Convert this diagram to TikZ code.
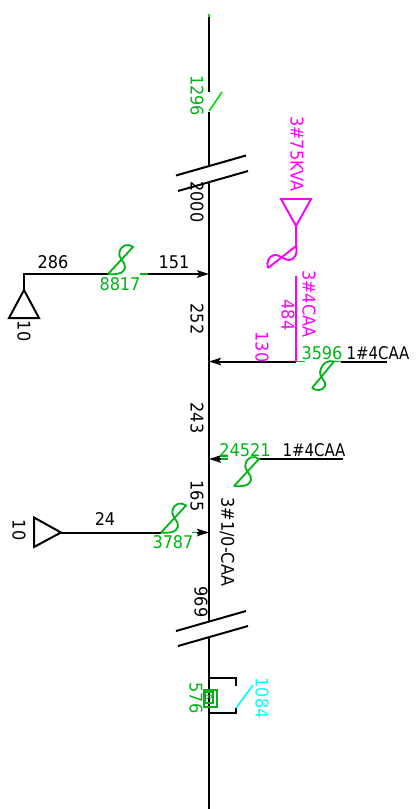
\documentclass[tikz,border=0pt]{standalone}
\usepackage{fontspec}
\setmainfont[FakeStretch=0.92]{DejaVu Sans}
\usetikzlibrary{arrows.meta}
\definecolor{cadgreen}{RGB}{0,180,20}
\definecolor{limeg}{RGB}{0,225,0}
\definecolor{cadmag}{RGB}{255,0,255}
\definecolor{cadcyan}{RGB}{0,255,255}
\tikzset{
  wire/.style={line width=2pt,black},
  gwire/.style={line width=1.8pt,cadgreen},
  mwire/.style={line width=1.9pt,cadmag},
  head/.style={-{Stealth[length=12pt,width=7.5pt,inset=2.5pt]}},
  lbl/.style={font=\fontsize{17.5}{19}\selectfont,inner sep=0pt,anchor=center,text=black},
  vlbl/.style={lbl,rotate=-90},
  glbl/.style={text=cadgreen},
  mlbl/.style={text=cadmag},
}
\newcommand{\swirl}[3]{% bottom-left x, y, colour
  \draw[line width=1.8pt,#3,shift={(#1,#2)}] (0,0) -- (25,-27)
    .. controls (20,-31) and (13,-29) .. (11.5,-22)
    .. controls (10,-15) and (18,-12) .. (17,-6)
    .. controls (16,0) and (6,1) .. (0,0);}
\begin{document}
\begin{tikzpicture}[x=1pt,y=-1pt]
\useasboundingbox (0,0) rectangle (420,809);
% main feeder
\coordinate (m0) at (209,16);
\coordinate (m1) at (209,92);
\coordinate (m2) at (209,112);
\coordinate (m3) at (209,166);
\coordinate (m4) at (209,182);
\coordinate (m5) at (209,622);
\coordinate (m6) at (209,637);
\coordinate (m7) at (209,809);
\draw[wire] (m0) -- (m1);
\draw[line width=1.8pt,limeg] (209,14) -- (209,17);
\draw[wire] (m2) -- (m3);
\draw[wire] (m4) -- (m5);
\draw[wire] (m6) -- (m7);
\draw[line width=1.6pt,limeg] (m2) ++(0,-1) -- (222,92);
% break marks
\draw[wire] (176,175.5) -- (246,155.5);
\draw[wire] (178,191) -- (248,171);
\draw[wire] (176,631) -- (246,611);
\draw[wire] (178,646) -- (248,626);
% left branch upper
\coordinate (lt) at (24,274);
\coordinate (la) at (24,290);
\coordinate (j1) at (209,274);
\draw[wire] (la) -- (lt) -- (108,274);
\draw[wire] (39,318) -- (9,318) -- (la) -- cycle;
\draw[gwire] (140,274) -- (148,274);
\draw[wire,head] (148,274) -- (j1);
\swirl{108}{274}{cadgreen}
% right branch 3596
\coordinate (j2) at (209,361.5);
\coordinate (t2) at (296,361.5);
\draw[wire,head] (t2) -- (j2);
\draw[mwire] (296,276) -- (t2);
\draw[gwire] (t2) -- (305,361.5);
\draw[gwire] (334,361.5) -- (341,361.5);
\draw[wire] (341,361.5) -- (387,361.5);
\draw[line width=1.8pt,cadgreen] (312,388) -- (334,361.5)
  .. controls (329,360) and (322,362) .. (320,372)
  .. controls (319,378) and (327,381) .. (325,386)
  .. controls (323,391) and (316,391) .. (312,388);
% right branch 24521
\coordinate (j3) at (209,459);
\draw[wire,head] (224,459) -- (j3);
\draw[gwire] (221,459) -- (228,459);
\draw[gwire] (220,456) -- (228,456);
\draw[gwire] (258,459) -- (262,459);
\draw[wire] (260,459) -- (343,459);
\swirl{234}{486}{cadgreen}
% lower-left branch
\coordinate (j4) at (209,532.5);
\coordinate (a4) at (61,532.5);
\draw[wire] (34,517.5) -- (34,547) -- (a4) -- cycle;
\draw[wire] (a4) -- (161,532.5);
\draw[gwire] (192,532.5) -- (198,532.5);
\draw[wire,head] (197,532.5) -- (j4);
\swirl{161}{532.5}{cadgreen}
% transformer
\coordinate (ta) at (296,226);
\draw[mwire] (ta) -- (281,199) -- (311,199) -- cycle;
\draw[mwire] (ta) -- (296,246);
\draw[mwire] (268,268) -- (296,246)
  .. controls (298,254) and (294,261) .. (288,260)
  .. controls (283,259) and (278,254) .. (274,255)
  .. controls (269,256) and (266,262) .. (268,268);
% regulator
\draw[wire] (209,678) -- (236,678) -- (236,686);
\draw[wire] (209,713) -- (236,713) -- (236,708);
\draw[line width=1.6pt,cadcyan] (236,708) -- (253,685);
\draw[line width=1.7pt,cadgreen] (204,690) rectangle (217,707);
\draw[line width=1.2pt,cadgreen] (205,692) rectangle (213,703);
\node[lbl,glbl,rotate=-90,font=\fontsize{9}{9}\selectfont] (rr) at (209,697.5) {R};
% labels
\node[vlbl,glbl] (n1296) at (197,95.5) {1296};
\node[vlbl] (n2000) at (197,202) {2000};
\node[vlbl,mlbl] (nkva) at (297,154) {3\#75KVA};
\node[lbl] (n286) at (53,262) {286};
\node[lbl] (n151) at (174,262) {151};
\node[lbl,glbl] (n8817) at (120,284) {8817};
\node[vlbl] (n10a) at (24,331) {10};
\node[vlbl] (n252) at (197,319) {252};
\node[vlbl,mlbl] (n34) at (309,304) {3\#4CAA};
\node[vlbl,mlbl] (n484) at (288,315) {484};
\node[vlbl,mlbl] (n130) at (262,347) {130};
\node[lbl,glbl] (n3596) at (322,353) {3596};
\node[lbl,xscale=.93] (ca1) at (378,353) {1\#4CAA};
\node[vlbl] (n243) at (197,418) {243};
\node[lbl,glbl] (n24521) at (245,450) {24521};
\node[lbl,xscale=.93] (ca2) at (314,450) {1\#4CAA};
\node[vlbl] (n165) at (197,496) {165};
\node[vlbl] (n310) at (227,542) {3\#1/0-CAA};
\node[lbl] (n24) at (105,519) {24};
\node[lbl,glbl] (n3787) at (173,542) {3787};
\node[vlbl] (n10b) at (19,530) {10};
\node[vlbl] (n969) at (201,602) {969};
\node[vlbl,glbl] (n576) at (196,698) {576};
\node[vlbl,text=cadcyan] (n1084) at (262,698) {1084};
\end{tikzpicture}
\end{document}
